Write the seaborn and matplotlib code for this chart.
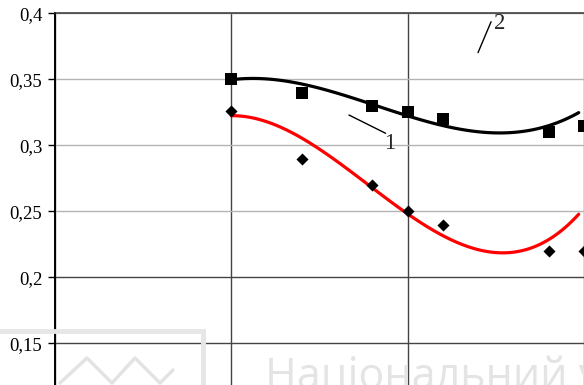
import numpy as np
import pandas as pd
import matplotlib
matplotlib.use("Agg")
import matplotlib.pyplot as plt
from matplotlib.patches import Rectangle
import seaborn as sns

# Measured points
x_meas = [1.0, 1.4, 1.8, 2.0, 2.2, 2.8, 3.0]
y_sq = [0.350, 0.340, 0.330, 0.325, 0.320, 0.310, 0.315]
y_dia = [0.326, 0.290, 0.270, 0.250, 0.240, 0.220, 0.220]

# Calculated curves 1 (black) and 2 (red), sampled
x_curve = [1.0, 1.15, 1.375, 1.5, 1.65, 1.8, 2.0, 2.33, 2.44, 2.66, 2.79, 2.97]
y_curve1 = [0.3482, 0.3520, 0.3483, 0.3435, 0.3360, 0.3326, 0.3202, 0.3104, 0.3097, 0.3126, 0.3160, 0.3230]
y_curve2 = [0.3195, 0.3220, 0.3104, 0.3000, 0.2798, 0.2659, 0.2447, 0.2262, 0.2188, 0.2237, 0.2280, 0.2460]

y_ticks = [0.15, 0.2, 0.25, 0.3, 0.35, 0.4]
y_tick_labels = ["0,15", "0,2", "0,25", "0,3", "0,35", "0,4"]
watermark = "Національний університет"

sns.set_style("white")
plt.rcParams["font.family"] = ["Liberation Serif", "DejaVu Serif"]

W, H = 584, 385
fig = plt.figure(figsize=(W / 100, H / 100), dpi=100)

# Faint watermark logo and caption behind the chart
fig.patches.append(Rectangle((-10 / W, -20 / H), 213 / W, (385 - 331 + 20) / H,
                             transform=fig.transFigure, fill=False, edgecolor="#e6e6e6",
                             linewidth=3.5, zorder=0))
zx = np.array([60, 87, 112, 135, 160, 173]) / W
zy = 1 - np.array([383, 358, 383, 358, 383, 370]) / H
fig.add_artist(plt.Line2D(zx, zy, transform=fig.transFigure, color="#e3e3e3", lw=2.5, zorder=0))
fig.text(265 / W, 1 - 389 / H, watermark, fontsize=31, color="#e4e4e4",
         family=["Open Sans", "DejaVu Sans"], ha="left", va="baseline", zorder=0)

ax = fig.add_axes([55 / W, 0.0, 1 - 55 / W, 1 - 13.3 / H])
ax.patch.set_alpha(0)

xmax = (584 - 55) / 178.3
ymin = 0.4 - (385 - 13.3) / 1320
ax.set_xlim(0, xmax)
ax.set_ylim(ymin, 0.4)

df_meas = pd.DataFrame({"x": x_meas, "sq": y_sq, "dia": y_dia})
df_curve = pd.DataFrame({"x": x_curve, "c1": y_curve1, "c2": y_curve2})

sns.regplot(data=df_curve, x="x", y="c1", order=3, ci=None, scatter=False, ax=ax,
            line_kws=dict(color="black", lw=2.3, zorder=3))
sns.regplot(data=df_curve, x="x", y="c2", order=3, ci=None, scatter=False, ax=ax,
            line_kws=dict(color="#ff0000", lw=2.3, zorder=3))
sns.scatterplot(data=df_meas, x="x", y="sq", marker="s", s=80, color="black",
                linewidth=0, ax=ax, zorder=4)
sns.scatterplot(data=df_meas, x="x", y="dia", marker="D", s=38, color="black",
                linewidth=0, ax=ax, zorder=4)

ax.set_xlim(0, xmax)
ax.set_ylim(ymin, 0.4)
ax.set_xlabel("")
ax.set_ylabel("")

# Grid
ax.set_xticks([0, 1, 2, 3])
ax.set_yticks(y_ticks)
ax.set_yticklabels(y_tick_labels, fontsize=13.5)
ax.grid(True, axis="y", lw=1.0)
ax.grid(True, axis="x", color="#444444", lw=1.0)
for val, gl in zip(y_ticks, ax.get_ygridlines()):
    gl.set_color("#444444" if val < 0.22 else "#b4b4b4")
ax.tick_params(axis="x", length=0, labelbottom=False)
ax.tick_params(axis="y", direction="out", length=5, width=1, color="black", pad=4,
               left=True, labelcolor="black")

for side in ["right", "bottom"]:
    ax.spines[side].set_visible(False)
ax.spines["left"].set_color("black")
ax.spines["left"].set_linewidth(1.4)
ax.spines["top"].set_color("#333333")
ax.spines["top"].set_linewidth(1.1)

# Curve labels with leader lines
ax.plot([1.667, 1.875], [0.32295, 0.3091], color="black", lw=1.0)
ax.text(1.897, 0.3015, "1", fontsize=16.5, ha="center", va="center")
ax.plot([2.399, 2.473], [0.3702, 0.3936], color="black", lw=1.0)
ax.text(2.524, 0.3922, "2", fontsize=16.5, ha="center", va="center")

fig.savefig("out.png", dpi=100)
